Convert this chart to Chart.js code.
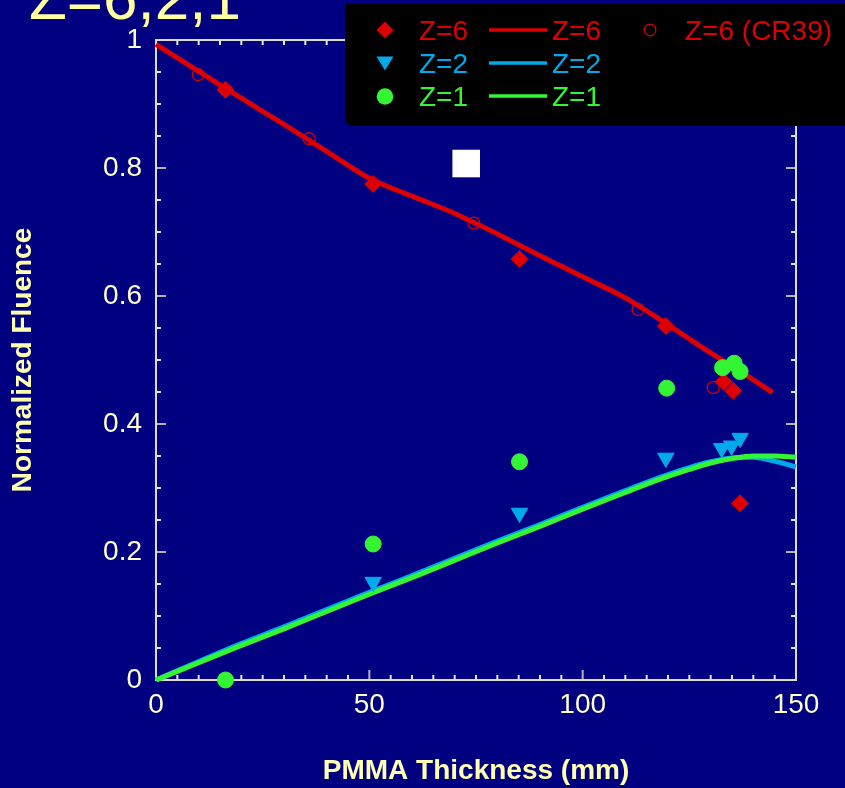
<!DOCTYPE html>
<html>
<head>
<meta charset="utf-8">
<script src="https://cdn.jsdelivr.net/npm/chart.js@4.4.1/dist/chart.umd.min.js"></script>
<style>
  html, body { margin: 0; padding: 0; background: #000080; }
  #wrap { width: 845px; height: 788px; position: relative; }
  canvas { display: block; }
</style>
</head>
<body>
<div id="wrap"><canvas id="c" width="845" height="788"></canvas></div>
<script>
// ---------------- data ----------------
const chartTitle = 'Z=6,2,1';
const xAxisTitle = 'PMMA Thickness (mm)';
const yAxisTitle = 'Normalized Fluence';

const xTickValues = [0, 50, 100, 150];
const xTickLabels = ['0', '50', '100', '150'];
const yTickValues = [0, 0.2, 0.4, 0.6, 0.8, 1];
const yTickLabels = ['0', '0.2', '0.4', '0.6', '0.8', '1'];

// measured points
const z6X = [16.3, 50.9, 85.2, 119.5, 133.0, 135.3, 136.9];
const z6Y = [0.922, 0.775, 0.658, 0.553, 0.466, 0.452, 0.276];

const cr39X = [9.9, 35.9, 74.5, 113.0, 130.6];
const cr39Y = [0.946, 0.846, 0.714, 0.579, 0.457];

const z2X = [50.9, 85.2, 119.5, 132.6, 134.9, 136.9];
const z2Y = [0.153, 0.261, 0.347, 0.362, 0.366, 0.378];

const z1X = [16.3, 50.9, 85.2, 119.7, 132.8, 135.5, 136.9];
const z1Y = [0.0, 0.2125, 0.341, 0.456, 0.488, 0.495, 0.482];

const markX = [72.7];
const markY = [0.807];

// calculated curves
const lineZ6X = [0, 10, 20, 30, 40, 50, 60, 70, 80, 90, 100, 110, 120, 130, 135, 140, 144.5];
const lineZ6Y = [0.993, 0.951, 0.909, 0.868, 0.826, 0.784, 0.756, 0.729, 0.697, 0.663, 0.630, 0.597, 0.555, 0.511, 0.490, 0.469, 0.449];

const lineZ2X = [0, 10, 20, 30, 40, 50, 60, 70, 80, 90, 100, 110, 115, 120, 125, 130, 135, 140, 145, 150];
const lineZ2Y = [0, 0.029, 0.057, 0.083, 0.110, 0.137, 0.163, 0.190, 0.217, 0.243, 0.270, 0.296, 0.309, 0.321, 0.332, 0.341, 0.347, 0.348, 0.342, 0.333];

const lineZ1X = [0, 10, 20, 30, 40, 50, 60, 70, 80, 90, 100, 110, 115, 120, 125, 130, 135, 140, 145, 150];
const lineZ1Y = [0, 0.027, 0.054, 0.080, 0.107, 0.134, 0.160, 0.187, 0.214, 0.240, 0.267, 0.293, 0.306, 0.318, 0.329, 0.339, 0.346, 0.350, 0.350, 0.348];

// legend text
const legendMarkerLabels = ['Z=6', 'Z=2', 'Z=1'];
const legendLineLabels = ['Z=6', 'Z=2', 'Z=1'];
const legendCR39Label = 'Z=6 (CR39)';

// ---------------- styles ----------------
const NAVY = '#000080';
const RED = '#dd0000';
const CYAN = '#00aaea';
const GREEN = '#33f533';
const LABEL = '#ffffcc';
const TITLE_COL = '#ffff9e';
const AXIS_TITLE_COL = '#ffffb0';
const FRAME = '#dcdccc';
const TICK_MINOR = '#e6e6e6';
const TICK_MAJOR = '#b4b4b4';
const FONT = '"Liberation Sans", Arial, Helvetica, sans-serif';

const X_MINOR = 5, X_MAJOR_EVERY = 10;
const Y_MINOR = 0.05, Y_MAJOR_EVERY = 4;

const pts = (xs, ys) => xs.map((x, i) => ({ x: x, y: ys[i] }));
const matchLabel = (vals, labels, v) => {
  for (let i = 0; i < vals.length; i++) if (Math.abs(vals[i] - v) < 1e-6) return labels[i];
  return '';
};

Chart.defaults.font.family = FONT;

// ---------------- plugins ----------------
const bgPlugin = {
  id: 'bg',
  beforeDraw(chart) {
    const ctx = chart.ctx;
    ctx.save();
    ctx.fillStyle = NAVY;
    ctx.fillRect(0, 0, chart.width, chart.height);
    ctx.restore();
  }
};

const framePlugin = {
  id: 'frame',
  beforeDatasetsDraw(chart) {
    const { ctx, chartArea, scales } = chart;
    const { left, right, top, bottom } = chartArea;
    const xs = scales.x, ys = scales.y;
    ctx.save();
    ctx.lineWidth = 2;
    const nx = Math.round((xs.max - xs.min) / X_MINOR);
    for (let i = 0; i <= nx; i++) {
      const px = xs.getPixelForValue(xs.min + i * X_MINOR);
      const major = i % X_MAJOR_EVERY === 0;
      const len = major ? 10 : 5;
      ctx.strokeStyle = major ? TICK_MAJOR : TICK_MINOR;
      ctx.beginPath();
      ctx.moveTo(px, bottom); ctx.lineTo(px, bottom - len);
      ctx.moveTo(px, top); ctx.lineTo(px, top + len);
      ctx.stroke();
    }
    const ny = Math.round((ys.max - ys.min) / Y_MINOR);
    for (let i = 0; i <= ny; i++) {
      const py = ys.getPixelForValue(ys.min + i * Y_MINOR);
      const major = i % Y_MAJOR_EVERY === 0;
      const len = major ? 10 : 5;
      ctx.strokeStyle = major ? TICK_MAJOR : TICK_MINOR;
      ctx.beginPath();
      ctx.moveTo(left, py); ctx.lineTo(left + len, py);
      ctx.moveTo(right, py); ctx.lineTo(right - len, py);
      ctx.stroke();
    }
    ctx.strokeStyle = FRAME;
    ctx.strokeRect(left, top, right - left, bottom - top);
    ctx.restore();
  }
};

function drawDiamond(ctx, x, y, r, color) {
  ctx.fillStyle = color;
  ctx.beginPath();
  ctx.moveTo(x - r, y); ctx.lineTo(x, y - r); ctx.lineTo(x + r, y); ctx.lineTo(x, y + r);
  ctx.closePath(); ctx.fill();
}
function drawTriDown(ctx, x, yTop, halfW, h, color) {
  ctx.fillStyle = color;
  ctx.beginPath();
  ctx.moveTo(x - halfW, yTop); ctx.lineTo(x + halfW, yTop); ctx.lineTo(x, yTop + h);
  ctx.closePath(); ctx.fill();
}
function drawDot(ctx, x, y, r, color) {
  ctx.fillStyle = color;
  ctx.beginPath(); ctx.arc(x, y, r, 0, Math.PI * 2); ctx.fill();
}

const overlayPlugin = {
  id: 'overlay',
  afterDraw(chart) {
    const ctx = chart.ctx;
    ctx.save();
    // slide title (partly cut off at the top)
    ctx.fillStyle = TITLE_COL;
    ctx.font = '62px ' + FONT;
    ctx.textBaseline = 'alphabetic';
    ctx.textAlign = 'left';
    ctx.fillText(chartTitle, 29, 18.5);

    // legend box
    ctx.fillStyle = '#000000';
    ctx.beginPath();
    if (ctx.roundRect) ctx.roundRect(345, 4, 520, 122, [0, 0, 0, 8]);
    else ctx.rect(345, 4, 520, 122);
    ctx.fill();

    const colors = [RED, CYAN, GREEN];
    const baselines = [40, 73, 106];
    const mids = [30, 63, 96];
    ctx.font = '28px ' + FONT;
    ctx.textBaseline = 'alphabetic';
    for (let i = 0; i < 3; i++) {
      const c = colors[i];
      if (i === 0) drawDiamond(ctx, 385, mids[i], 8.5, c);
      if (i === 1) drawTriDown(ctx, 385, mids[i] - 6.5, 8.5, 14, c);
      if (i === 2) drawDot(ctx, 385, mids[i] + 0.5, 8.3, c);
      ctx.fillStyle = c;
      ctx.fillText(legendMarkerLabels[i], 419, baselines[i]);
      ctx.strokeStyle = c;
      ctx.lineWidth = 3.5;
      ctx.beginPath(); ctx.moveTo(489, mids[i]); ctx.lineTo(547, mids[i]); ctx.stroke();
      ctx.fillText(legendLineLabels[i], 552, baselines[i]);
    }
    // CR39 open circle
    ctx.strokeStyle = RED;
    ctx.lineWidth = 1.2;
    ctx.beginPath(); ctx.arc(650, mids[0], 5.8, 0, Math.PI * 2); ctx.stroke();
    ctx.fillStyle = RED;
    ctx.fillText(legendCR39Label, 685, baselines[0]);
    ctx.restore();
  }
};

// ---------------- chart ----------------
const lineBase = { showLine: true, pointRadius: 0, borderWidth: 5, cubicInterpolationMode: 'monotone', fill: false, clip: false };

new Chart(document.getElementById('c'), {
  type: 'scatter',
  data: {
    datasets: [
      { label: 'mark', data: pts(markX, markY), pointStyle: 'rect', pointRadius: 19.5, backgroundColor: '#ffffff', borderColor: '#ffffff', borderWidth: 0, order: 0, clip: false },
      { label: 'Z=1', data: pts(z1X, z1Y), pointStyle: 'circle', pointRadius: 8, backgroundColor: GREEN, borderColor: GREEN, borderWidth: 1, order: 1, clip: false },
      { label: 'Z=2', data: pts(z2X, z2Y), pointStyle: 'triangle', rotation: 180, pointRadius: 9.5, backgroundColor: CYAN, borderColor: CYAN, borderWidth: 1, order: 2, clip: false },
      { label: 'Z=6', data: pts(z6X, z6Y), pointStyle: 'rectRot', pointRadius: 8.5, backgroundColor: RED, borderColor: RED, borderWidth: 1, order: 3, clip: false },
      { label: 'Z=6 (CR39)', data: pts(cr39X, cr39Y), pointStyle: 'circle', pointRadius: 6, backgroundColor: 'rgba(0,0,0,0)', borderColor: RED, borderWidth: 1.2, order: 4, clip: false },
      Object.assign({ label: 'Z=1 calc', data: pts(lineZ1X, lineZ1Y), borderColor: GREEN, backgroundColor: GREEN, order: 5 }, lineBase),
      Object.assign({ label: 'Z=2 calc', data: pts(lineZ2X, lineZ2Y), borderColor: CYAN, backgroundColor: CYAN, order: 6 }, lineBase),
      Object.assign({ label: 'Z=6 calc', data: pts(lineZ6X, lineZ6Y), borderColor: RED, backgroundColor: RED, order: 7 }, lineBase)
    ]
  },
  options: {
    responsive: false,
    animation: false,
    events: [],
    layout: { padding: { left: 0, right: 49, top: 40, bottom: 0 } },
    plugins: {
      legend: { display: false },
      tooltip: { enabled: false },
      title: { display: false }
    },
    scales: {
      x: {
        type: 'linear',
        min: 0, max: 150,
        grid: { display: false, drawTicks: false },
        border: { display: false },
        ticks: {
          stepSize: 50,
          color: LABEL,
          font: { size: 28 },
          padding: 8,
          maxRotation: 0,
          autoSkip: false,
          callback: (v) => matchLabel(xTickValues, xTickLabels, v)
        },
        title: {
          display: true,
          text: xAxisTitle,
          color: AXIS_TITLE_COL,
          font: { size: 28, weight: 'bold' },
          padding: { top: 0, bottom: 0 }
        },
        afterFit: (s) => { s.height = 108; }
      },
      y: {
        type: 'linear',
        min: 0, max: 1,
        grid: { display: false, drawTicks: false },
        border: { display: false },
        ticks: {
          stepSize: 0.2,
          color: LABEL,
          font: { size: 28 },
          padding: 14,
          autoSkip: false,
          callback: (v) => matchLabel(yTickValues, yTickLabels, v)
        },
        title: {
          display: true,
          text: yAxisTitle,
          color: AXIS_TITLE_COL,
          font: { size: 28, weight: 'bold' },
          padding: { top: 6, bottom: 0 }
        },
        afterFit: (s) => { s.width = 156; }
      }
    }
  },
  plugins: [bgPlugin, framePlugin, overlayPlugin]
});
</script>
</body>
</html>
